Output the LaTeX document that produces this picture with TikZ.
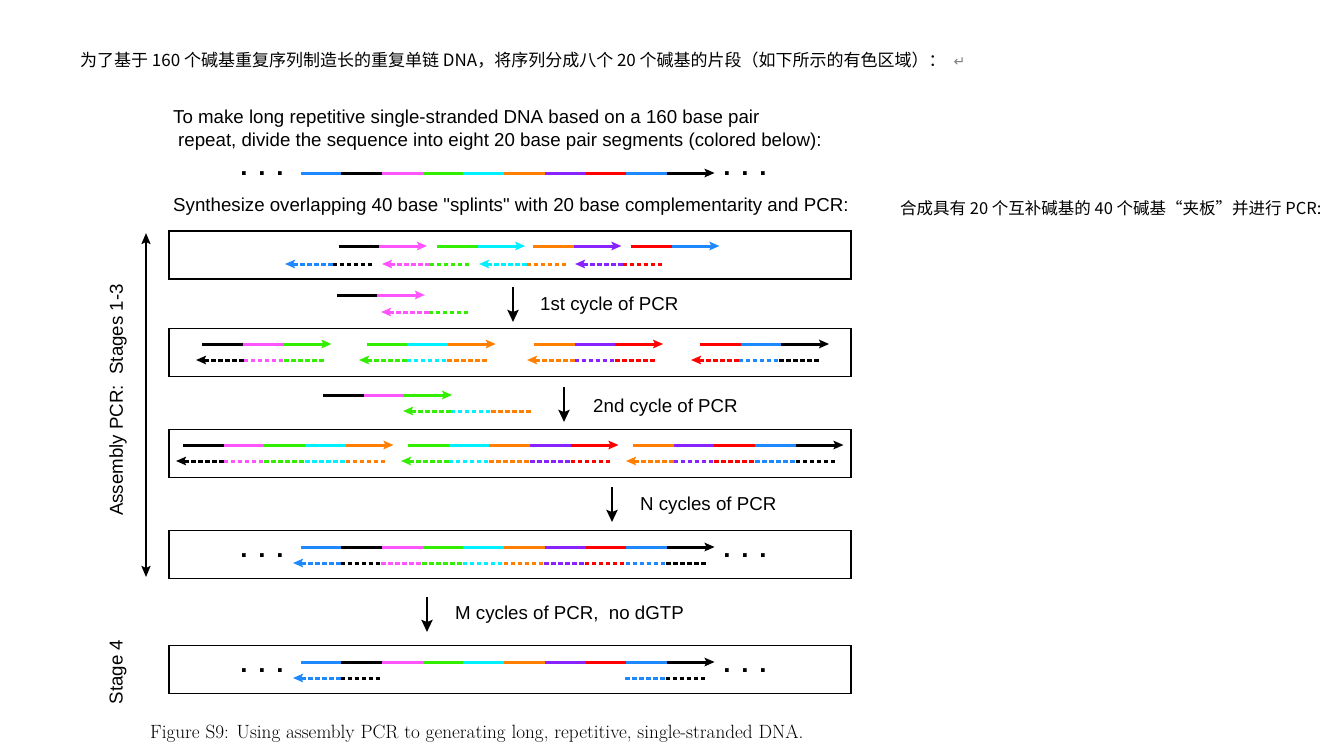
\documentclass[tikz,border=0pt]{standalone}
\usepackage{fontspec}
\setsansfont{Liberation Sans}
\newfontfamily\cjk{Noto Sans CJK SC}
\newfontfamily\djv{DejaVu Sans}
\usetikzlibrary{arrows.meta}
\definecolor{cblue}{HTML}{1E88FF}
\definecolor{cmag}{HTML}{FF55FF}
\definecolor{cgreen}{HTML}{33EE00}
\definecolor{ccyan}{HTML}{00F0FF}
\definecolor{corange}{HTML}{FF8000}
\definecolor{cpurple}{HTML}{8822FF}
\definecolor{cred}{HTML}{FF0000}
\def\segL{40.7}
\tikzset{
  seg/.style={line width=3pt},
  dsh/.style={line width=3pt, dash pattern=on 4.5pt off 2.5pt},
  tipR/.style={-{Stealth[length=10pt,width=8.5pt,inset=2pt]}},
  tipL/.style={-{Stealth[length=10pt,width=8.5pt,inset=2pt]}},
  box/.style={draw, line width=1.4pt, minimum width=682pt, minimum height=48pt, inner sep=0pt},
  lbl/.style={font=\sffamily\fontsize{18.7}{22}\selectfont, anchor=west, inner sep=0pt, yshift=-3pt},
  rlbl/.style={font=\sffamily\fontsize{18.7}{22}\selectfont, rotate=90, inner sep=0pt},
  dots/.style={font=\sffamily\bfseries\fontsize{26}{26}\selectfont, anchor=base, inner sep=0pt},
  bigarrow/.style={line width=2.4pt, -{Stealth[length=12pt,width=11pt,inset=2pt]}},
  cjktext/.style={font=\cjk\fontsize{17}{20}\selectfont, anchor=west, inner sep=0pt},
}
\newcommand\fwd[5]{%
  \foreach \c [count=\i from 0] in {#4} {\draw[seg,\c] ({#2+\i*\segL},#1) -- ++(\segL,0);}
  \draw[seg,#5,tipR] ({#2+#3*\segL},#1) -- ++({\segL+7},0);
}
\newcommand\rev[4]{%
  \draw[dsh,#3,tipL] ({#2+\segL+7},#1) -- (#2,#1);
  \foreach \c [count=\i from 0] in {#4} {\draw[dsh,\c] ({#2+\segL+7+\i*\segL},#1) -- ++(\segL,0);}
}
\newcommand\dotsnode[3]{\node[dots] (#1) at (#2,#3) {.\hspace{10.8pt}.\hspace{10.8pt}.};}
\begin{document}
\begin{tikzpicture}[x=1pt,y=-1pt]
\useasboundingbox (0,0) rectangle (1323,750);
\fill[white] (0,0) rectangle (1323,750);

% Chinese texts
\node[cjktext] (zh1) at (80,60) {为了基于 160 个碱基重复序列制造长的重复单链 DNA，将序列分成八个 20 个碱基的片段（如下所示的有色区域）：\hspace{8pt}{\djv\color{gray}\fontsize{14}{14}\selectfont ↵}};
\node[cjktext, font=\cjk\fontsize{16.5}{20}\selectfont] (zh2) at (900,208) {合成具有 20 个互补碱基的 40 个碱基“夹板”并进行 PCR:};

% English texts
\node[lbl] (t1) at (173,116) {To make long repetitive single-stranded DNA based on a 160 base pair};
\node[lbl] (t2) at (178,139) {repeat, divide the sequence into eight 20 base pair segments (colored below):};
\node[lbl] (t3) at (173,204) {Synthesize overlapping 40 base \textquotedbl splints\textquotedbl\ with 20 base complementarity and PCR:};

% top sequence
\dotsnode{d1}{262}{175}
\dotsnode{d2}{745}{175}
\fwd{173}{300.6}{9}{cblue,black,cmag,cgreen,ccyan,corange,cpurple,cred,cblue}{black}

% boxes
\node[box] (box1) at (510,255) {};
\node[box] (box2) at (510,352.5) {};
\node[box] (box3) at (510,453.5) {};
\node[box] (box4) at (510,554.5) {};
\node[box] (box5) at (510,669.5) {};

% box 1
\fwd{246}{338.6}{1}{black}{cmag}
\fwd{246}{436.8}{1}{cgreen}{ccyan}
\fwd{246}{533}{1}{corange}{cpurple}
\fwd{246}{631}{1}{cred}{cblue}
\rev{264}{285}{cblue}{black}
\rev{264}{382}{cmag}{cgreen}
\rev{264}{479}{ccyan}{corange}
\rev{264}{575}{cpurple}{cred}

% step 1
\fwd{295}{336.5}{1}{black}{cmag}
\rev{312}{381}{cmag}{cgreen}
\coordinate (a1s) at (513,287); \coordinate (a1e) at (513,322);
\draw[bigarrow] (a1s) -- (a1e);
\node[lbl] (l1) at (540,303) {1st cycle of PCR};

% box 2
\fwd{344}{202.4}{2}{black,cmag}{cgreen}
\fwd{344}{366.7}{2}{cgreen,ccyan}{corange}
\fwd{344}{534}{2}{corange,cpurple}{cred}
\fwd{344}{700}{2}{cred,cblue}{black}
\rev{360}{196}{black}{cmag,cgreen}
\rev{360}{359}{cgreen}{ccyan,corange}
\rev{360}{527}{corange}{cpurple,cred}
\rev{360}{691}{cred}{cblue,black}

% step 2
\fwd{395}{323}{2}{black,cmag}{cgreen}
\rev{411}{403}{cgreen}{ccyan,corange}
\coordinate (a2s) at (564,387); \coordinate (a2e) at (564,422);
\draw[bigarrow] (a2s) -- (a2e);
\node[lbl] (l2) at (593,405) {2nd cycle of PCR};

% box 3
\fwd{445}{183}{4}{black,cmag,cgreen,ccyan}{corange}
\fwd{445}{408}{4}{cgreen,ccyan,corange,cpurple}{cred}
\fwd{445}{633}{4}{corange,cpurple,cred,cblue}{black}
\rev{461}{176}{black}{cmag,cgreen,ccyan,corange}
\rev{461}{401}{cgreen}{ccyan,corange,cpurple,cred}
\rev{461}{626}{corange}{cpurple,cred,cblue,black}

% step 3
\coordinate (a3s) at (612,487); \coordinate (a3e) at (612,522);
\draw[bigarrow] (a3s) -- (a3e);
\node[lbl] (l3) at (640,503) {N cycles of PCR};

% box 4
\dotsnode{d3}{262}{557}
\dotsnode{d4}{745}{557}
\fwd{547}{300.6}{9}{cblue,black,cmag,cgreen,ccyan,corange,cpurple,cred,cblue}{black}
\rev{563}{293}{cblue}{black,cmag,cgreen,ccyan,corange,cpurple,cred,cblue,black}

% step 4
\coordinate (a4s) at (427,597); \coordinate (a4e) at (427,632);
\draw[bigarrow] (a4s) -- (a4e);
\node[lbl] (l4) at (455,612) {M cycles of PCR,\ \ no dGTP};

% box 5
\dotsnode{d5}{262}{672}
\dotsnode{d6}{745}{672}
\fwd{662}{300.6}{9}{cblue,black,cmag,cgreen,ccyan,corange,cpurple,cred,cblue}{black}
\rev{678}{293}{cblue}{black}
\draw[dsh,cblue] (625,678) -- ++(\segL,0);
\draw[dsh,black] ({625+\segL},678) -- ++(\segL,0);

% left side
\coordinate (vs) at (146,233); \coordinate (ve) at (146,577);
\draw[line width=2pt, {Stealth[length=11pt,width=9pt,inset=2pt]}-{Stealth[length=11pt,width=9pt,inset=2pt]}] (vs) -- (ve);
\node[rlbl] (s13) at (118,400) {Assembly PCR:\ \ Stages 1-3};
\node[rlbl] (s4) at (118,672) {Stage 4};

% caption
\node[font=\fontsize{19.2}{22}\selectfont, anchor=west, inner sep=0pt] (cap) at (150,734) {Figure S9: Using assembly PCR to generating long, repetitive, single-stranded DNA.};
\end{tikzpicture}
\end{document}
